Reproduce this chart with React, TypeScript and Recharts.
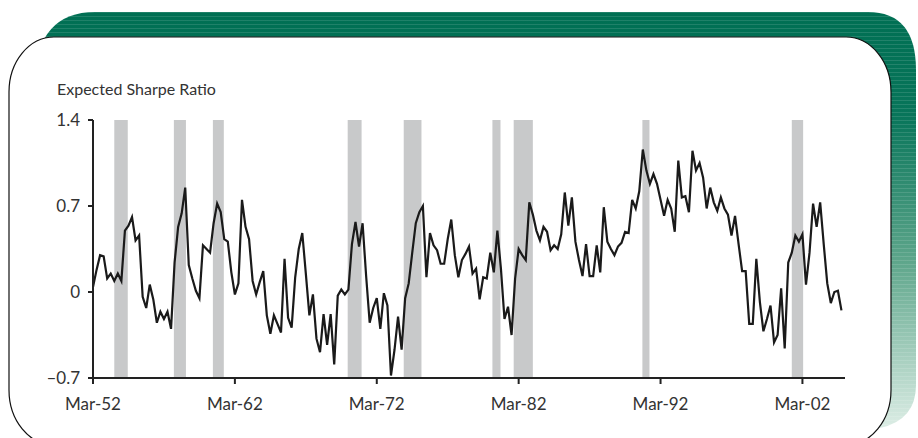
import { ComposedChart, Line, XAxis, YAxis, ReferenceArea } from "recharts";

// quarterly readings, first one is Mar-52
const startYear = 1952;
const sharpe = [
  0.04, 0.18, 0.3, 0.29, 0.11, 0.15, 0.09, 0.15, 0.09, 0.5,
  0.54, 0.61, 0.42, 0.46, -0.04, -0.13, 0.06, -0.06, -0.25, -0.16,
  -0.22, -0.16, -0.3, 0.24, 0.53, 0.64, 0.85, 0.22, 0.11, 0.01,
  -0.05, 0.38, 0.35, 0.32, 0.56, 0.72, 0.65, 0.43, 0.41, 0.16,
  -0.02, 0.07, 0.75, 0.53, 0.43, 0.09, -0.02, 0.08, 0.17, -0.19,
  -0.34, -0.19, -0.26, -0.33, 0.27, -0.21, -0.29, 0.12, 0.35, 0.48,
  0.15, -0.19, -0.02, -0.38, -0.49, -0.18, -0.43, -0.18, -0.59, -0.03,
  0.02, -0.02, 0.02, 0.39, 0.57, 0.37, 0.56, 0.13, -0.25, -0.13,
  -0.05, -0.3, -0.01, -0.11, -0.68, -0.47, -0.2, -0.47, -0.05, 0.07,
  0.32, 0.56, 0.65, 0.7, 0.12, 0.48, 0.38, 0.34, 0.23, 0.23,
  0.43, 0.59, 0.3, 0.12, 0.26, 0.31, 0.37, 0.15, 0.19, -0.06,
  0.12, 0.11, 0.32, 0.16, 0.5, 0.19, -0.22, -0.12, -0.35, 0.11,
  0.35, 0.3, 0.26, 0.73, 0.63, 0.5, 0.42, 0.53, 0.49, 0.34,
  0.38, 0.35, 0.47, 0.81, 0.54, 0.77, 0.41, 0.26, 0.13, 0.39,
  0.13, 0.13, 0.38, 0.16, 0.69, 0.41, 0.35, 0.3, 0.37, 0.4,
  0.49, 0.48, 0.75, 0.68, 0.82, 1.16, 0.99, 0.88, 0.96, 0.88,
  0.75, 0.62, 0.75, 0.68, 0.49, 1.07, 0.77, 0.78, 0.65, 1.15,
  0.99, 1.05, 0.93, 0.68, 0.85, 0.73, 0.66, 0.77, 0.68, 0.63,
  0.46, 0.62, 0.39, 0.17, 0.17, -0.26, -0.26, 0.27, -0.08, -0.32,
  -0.22, -0.11, -0.41, -0.35, 0.03, -0.46, 0.24, 0.32, 0.46, 0.41,
  0.47, 0.06, 0.32, 0.72, 0.53, 0.73, 0.39, 0.07, -0.09, 0.0,
  0.01, -0.15,
];

// recession shading (decimal years)
const recessionStart = [1953.5, 1957.7, 1960.45, 1969.95, 1973.9, 1980.15, 1981.65, 1990.72, 2001.25];
const recessionEnd = [1954.45, 1958.55, 1961.22, 1970.93, 1975.15, 1980.72, 1983.0, 1991.22, 2002.05];

const xTicks = [1952, 1962, 1972, 1982, 1992, 2002];
const yTicks = [-0.7, 0, 0.7, 1.4];

const data = sharpe.map((v, i) => ({ t: startYear + i / 4, v }));

const font = "Lato, 'Liberation Sans', sans-serif";
const ink = "#222";

function Backdrop() {
  return (
    <svg width={918} height={438} style={{ position: "absolute", left: 0, top: 0 }}>
      <defs>
        <linearGradient id="green" x1="0" y1="0" x2="0" y2="1">
          <stop offset="0%" stopColor="#006f53" />
          <stop offset="25%" stopColor="#08755a" />
          <stop offset="60%" stopColor="#5ea68b" />
          <stop offset="100%" stopColor="#dcede5" />
        </linearGradient>
        <pattern id="stripes" width="4" height="4" patternUnits="userSpaceOnUse">
          <rect x="0" y="0" width="4" height="1" fill="#ffffff" fillOpacity="0.12" />
        </pattern>
      </defs>
      <path
        d="M 34 80 Q 38 12 95 12 L 868 12 Q 916 12 916 70 L 916 385 Q 916 420 880 428 L 40 428 Z"
        fill="url(#green)"
      />
      <path
        d="M 34 80 Q 38 12 95 12 L 868 12 Q 916 12 916 70 L 916 385 Q 916 420 880 428 L 40 428 Z"
        fill="url(#stripes)"
      />
      <rect x={9} y={37} width={882} height={408} rx={45} ry={55} fill="#fff" stroke="#111" strokeWidth={1.2} />
    </svg>
  );
}

export default function App() {
  return (
    <div
      style={{
        position: "fixed",
        left: 0,
        top: 0,
        width: 918,
        height: 438,
        background: "#fff",
        fontFamily: font,
        overflow: "hidden",
      }}
    >
      <Backdrop />
      <div style={{ position: "absolute", left: 57, top: 79, fontSize: 16, color: "#333" }}>
        Expected Sharpe Ratio
      </div>
      <div style={{ position: "absolute", left: 0, top: 0 }}>
        <ComposedChart
          width={918}
          height={438}
          data={data}
          margin={{ top: 120, right: 73, bottom: 20, left: 33 }}
        >
          {recessionStart.map((s, i) => (
            <ReferenceArea
              key={s}
              x1={s}
              x2={recessionEnd[i]}
              y1={-0.7}
              y2={1.4}
              fill="#c8c9ca"
              fillOpacity={1}
              stroke="none"
            />
          ))}
          <XAxis
            type="number"
            dataKey="t"
            domain={[1952, 2005]}
            ticks={xTicks}
            allowDataOverflow
            height={40}
            tickFormatter={(t: number) => "Mar-" + String(t).slice(2)}
            tick={{ fontSize: 17, fill: "#333", fontFamily: font }}
            tickSize={6}
            tickMargin={14}
            axisLine={{ stroke: ink, strokeWidth: 2 }}
            tickLine={{ stroke: ink, strokeWidth: 2 }}
          />
          <YAxis
            type="number"
            domain={[-0.7, 1.4]}
            ticks={yTicks}
            allowDataOverflow
            width={60}
            tickFormatter={(v: number) => (v < 0 ? "–" + Math.abs(v) : String(v))}
            tick={{ fontSize: 17, fill: "#333", fontFamily: font }}
            tickSize={5}
            tickMargin={8}
            axisLine={{ stroke: ink, strokeWidth: 2 }}
            tickLine={{ stroke: ink, strokeWidth: 2 }}
          />
          <Line
            type="linear"
            dataKey="v"
            stroke="#1a1a1a"
            strokeWidth={2.2}
            dot={false}
            isAnimationActive={false}
          />
        </ComposedChart>
      </div>
    </div>
  );
}
